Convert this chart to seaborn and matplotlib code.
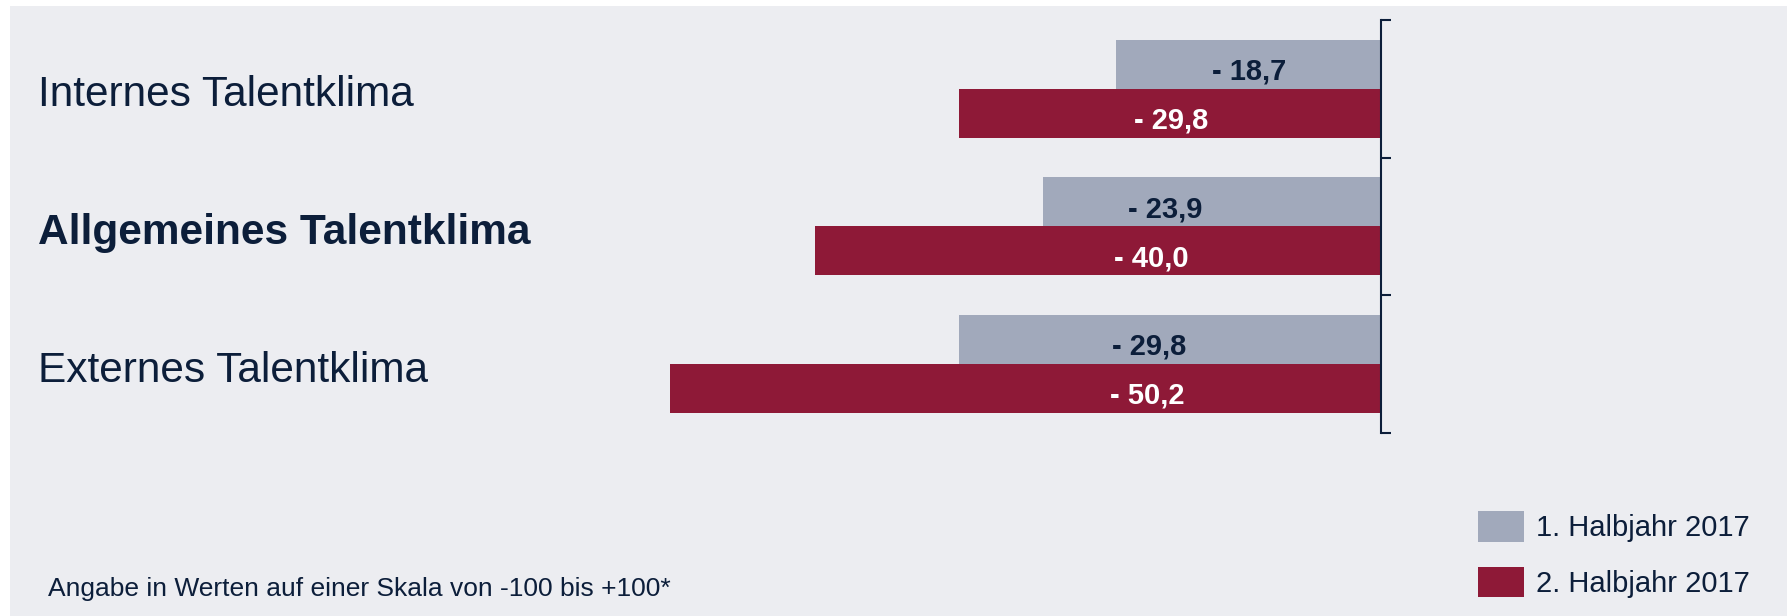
import numpy as np
import pandas as pd
import matplotlib
matplotlib.use('Agg')
import matplotlib.pyplot as plt
import seaborn as sns
from matplotlib.patches import Rectangle
from matplotlib.transforms import blended_transform_factory, offset_copy

# data
categories = ['Internes Talentklima', 'Allgemeines Talentklima', 'Externes Talentklima']
periods = ['1. Halbjahr 2017', '2. Halbjahr 2017']
first_half = [-18.7, -23.9, -29.8]
second_half = [-29.8, -40.0, -50.2]
footnote = 'Angabe in Werten auf einer Skala von -100 bis +100*'

# where the value labels sit (data units, they are not all centred in the original)
label_x_first = [-9.3, -15.2, -16.4]
label_x_second = [-14.8, -16.2, -16.5]

NAVY = '#0C1E3A'
GRAY = '#A1A9BB'
RED = '#8E1937'
PANEL = '#ECEDF1'

plt.rcParams['font.family'] = ['Liberation Sans', 'DejaVu Sans']

df = pd.DataFrame({
    'Kategorie': categories * 2,
    'Halbjahr': [periods[0]] * len(categories) + [periods[1]] * len(categories),
    'Wert': first_half + second_half,
})

W, H = 1787, 616
fig = plt.figure(figsize=(W / 100, H / 100), dpi=100, facecolor='white')
fig.patches.append(Rectangle((10 / W, 0), 1, 610 / H, transform=fig.transFigure,
                             facecolor=PANEL, edgecolor='none', zorder=-10))

ax = fig.add_axes([10 / W, 1 - 432.7 / H, 1370.7 / W, 412.7 / H])
ax.set_facecolor('none')

sns.barplot(data=df, y='Kategorie', x='Wert', hue='Halbjahr', order=categories,
            hue_order=periods, palette=[GRAY, RED], saturation=1, orient='h',
            width=0.712, errorbar=None, linewidth=0, ax=ax)

handles, labels = ax.get_legend_handles_labels()
if ax.get_legend() is not None:
    ax.get_legend().remove()

# value labels, nudged a little below the bar centre like in the original
val_trans = offset_copy(ax.transData, fig=fig, x=0, y=-3.2, units='points')
for container, xs, col in zip(ax.containers, [label_x_first, label_x_second], [NAVY, 'white']):
    for bar, x in zip(container, xs):
        v = bar.get_width()
        yc = bar.get_y() + bar.get_height() / 2
        txt = '- ' + f'{abs(v):.1f}'.replace('.', ',')
        ax.text(x, yc, txt, transform=val_trans, ha='center', va='center_baseline',
                fontsize=21, fontweight='bold', color=col)

# category labels on the left
trans = offset_copy(blended_transform_factory(ax.transAxes, ax.transData),
                    fig=fig, x=0, y=-1.5, units='points')
for i, cat in enumerate(categories):
    ax.text(0.0204, i, cat, transform=trans, ha='left', va='center_baseline',
            fontsize=30.5, color=NAVY, fontweight='bold' if i == 1 else 'normal')

ax.set_xlim(-1370.7 / 14.15, 0)
ax.set_yticks([-0.5, 0.5, 1.5, 2.5])
ax.set_yticklabels([])
ax.set_ylim(2.5, -0.5)
ax.set_xticks([])
ax.set_xlabel('')
ax.set_ylabel('')

for side in ['top', 'left', 'bottom']:
    ax.spines[side].set_visible(False)
ax.spines['right'].set_color(NAVY)
ax.spines['right'].set_linewidth(1.5)
ax.tick_params(axis='y', which='major', direction='out', length=7.2, width=1.5,
               color=NAVY, left=False, right=True, labelleft=False, labelright=False)

fig.legend(handles, labels, loc='upper left', bbox_to_anchor=(1478 / W, 1 - 511 / H),
           frameon=False, fontsize=21, handlelength=1.58, handleheight=1.24,
           handletextpad=0.41, labelspacing=0.84, borderpad=0, borderaxespad=0,
           labelcolor=NAVY)

fig.text(48 / W, 1 - 589 / H, footnote, ha='left', va='center', fontsize=19, color=NAVY)

fig.savefig('out.png', dpi=100, facecolor='white')
